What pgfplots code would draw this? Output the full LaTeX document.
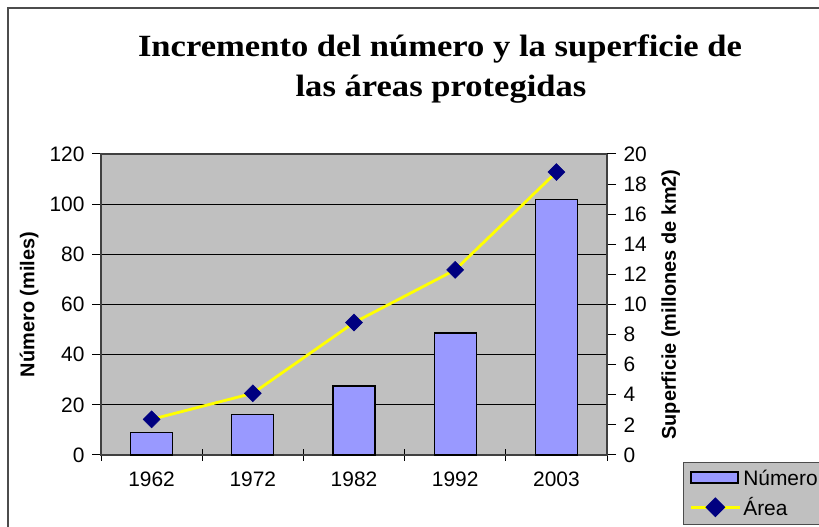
\documentclass[border=0pt]{standalone}
\usepackage{fontspec}
\setmainfont{Liberation Sans}
\newfontfamily\titlefont{Liberation Serif}[FakeStretch=1.12]
\usepackage{pgfplots}
\pgfplotsset{compat=1.18}
\definecolor{plotbg}{HTML}{C0C0C0}
\definecolor{barblue}{HTML}{9999FF}
\definecolor{navyb}{HTML}{000080}
\definecolor{lineyel}{HTML}{FFFF00}
\begin{document}
\begin{tikzpicture}[x=1bp,y=1bp]
\useasboundingbox (0,0) rectangle (819,527);
\clip (0,0) rectangle (819,527);
\fill[white] (0,0) rectangle (819,527);
\draw[line width=1.5bp, black!70] (8,-20) -- (8,519) -- (840,519);
\node[font=\titlefont\bfseries\fontsize{31}{36}\selectfont, anchor=base] at (440,470) {Incremento del número y la superficie de};
\node[font=\titlefont\bfseries\fontsize{31}{36}\selectfont, anchor=base] at (441,430) {las áreas protegidas};

\begin{axis}[
  at={(101bp,72bp)}, anchor=south west,
  width=506bp, height=301bp, scale only axis,
  xmin=-0.5, xmax=4.5, ymin=0, ymax=120,
  ytick={0,20,...,120},
  xtick={0,...,4},
  xticklabels={1962,1972,1982,1992,2003},
  minor xtick={-0.5,0.5,1.5,2.5,3.5,4.5},
  xtick pos=bottom, ytick pos=left,
  major x tick style={draw=none},
  xtick align=center, ytick align=outside,
  major tick length=9bp, minor tick length=12bp,
  tick style={black, line width=1bp},
  axis background/.style={fill=plotbg},
  ymajorgrids, grid style={black, line width=0.8bp},
  axis line style={black!75, line width=1.2bp},
  /pgf/number format/assume math mode=true,
  ticklabel style={font=\fontsize{21}{24}\selectfont},
  xticklabel style={yshift=-9bp},
  yticklabel style={xshift=-4bp},
  ylabel={\bfseries Número (miles)},
  ylabel style={at={(axis description cs:-0.142,0.5)}, anchor=center, font=\fontsize{20}{24}\selectfont},
  clip=false,
]
\addplot[ybar, bar width=42bp, fill=barblue, draw=black, line width=1.2bp]
  coordinates {(0,8.9) (1,16.1) (2,27.5) (3,48.6) (4,101.9)};
\end{axis}

\begin{axis}[
  at={(101bp,72bp)}, anchor=south west,
  width=506bp, height=301bp, scale only axis,
  xmin=-0.5, xmax=4.5, ymin=0, ymax=20,
  ytick={0,2,...,20},
  axis x line=none, axis y line*=right,
  ytick align=outside, major tick length=9bp,
  tick style={black, line width=1bp},
  axis line style={black!75, line width=1.2bp},
  /pgf/number format/assume math mode=true,
  ticklabel style={font=\fontsize{21}{24}\selectfont},
  yticklabel style={xshift=4bp},
  ylabel={\bfseries Superficie (millones de km2)},
  ylabel style={at={(axis description cs:1.126,0.5)}, anchor=center, font=\fontsize{20}{24}\selectfont},
  clip=false,
  legend style={at={(axis description cs:1.150,-0.0233)}, anchor=north west,
    fill=plotbg, draw=black!70, line width=1.2bp,
    font=\fontsize{21}{24}\selectfont, row sep=7bp, inner xsep=6bp, inner ysep=5bp},
  legend cell align=left,
]
\addlegendimage{legend image code/.code={\draw[fill=barblue, draw=black, line width=1.3bp] (0bp,-5bp) rectangle (47bp,6bp);}}
\addlegendentry{Número}
\addplot[lineyel, line width=2.8bp, mark=square*, mark size=6bp,
  mark options={rotate=45, fill=navyb, draw=navyb, line width=0.5bp},
  legend image code/.code={\draw[lineyel, line width=2.8bp] (0bp,0bp) -- (49bp,0bp);
    \fill[navyb] (24.5bp,0bp) ++(0,8bp) -- ++(8bp,-8bp) -- ++(-8bp,-8bp) -- ++(-8bp,8bp) -- cycle;}]
  coordinates {(0,2.37) (1,4.1) (2,8.8) (3,12.3) (4,18.8)};
\addlegendentry{Área}
\end{axis}
\end{tikzpicture}
\end{document}
